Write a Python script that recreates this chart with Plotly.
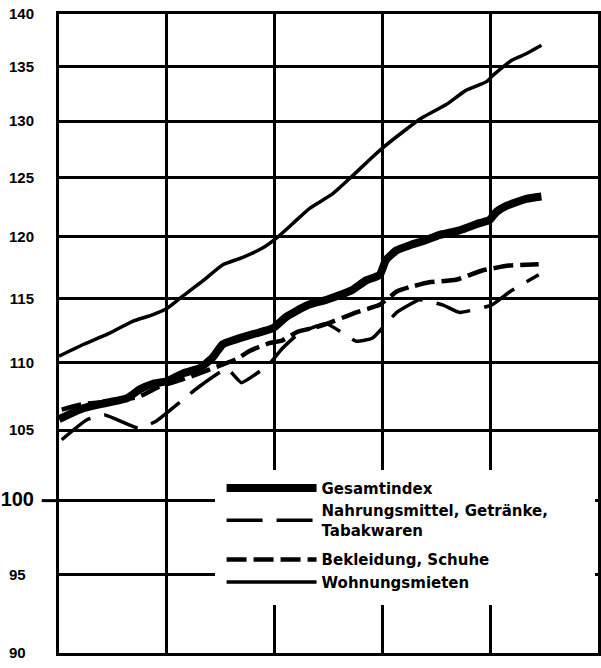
import numpy as np
import plotly.graph_objects as go

# ---- data (month index from start of the series; index values) ----
gesamt_m = [0, 2.7, 5.3, 7.6, 9.0, 10.4, 12.0, 13.8, 15.7, 17.1, 18.2, 19.3, 21.6, 23.8, 25.3,
            27.6, 29.8, 31.2, 32.7, 34.2, 35.7, 36.4, 37.6, 39.0, 40.9, 42.3, 44.6, 46.8, 47.9,
            48.7, 49.8, 52.0, 53.7]
gesamt_v = [105.8, 106.6, 107.0, 107.35, 108.0, 108.4, 108.6, 109.2, 109.6, 110.4, 111.4, 111.7,
            112.2, 112.65, 113.55, 114.45, 114.9, 115.25, 115.7, 116.45, 116.9, 118.1, 118.9,
            119.3, 119.75, 120.15, 120.55, 121.15, 121.4, 122.1, 122.6, 123.2, 123.4]

nahr_m = [0.3, 3.1, 5.1, 8.8, 10.7, 14.0, 15.4, 18.7, 20.3, 23.4, 24.8, 26.8, 29.8, 33.1, 34.9,
          37.6, 39.0, 40.1, 42.7, 44.6, 48.2, 50.1, 53.4]
nahr_v = [104.3, 105.75, 106.1, 105.15, 105.6, 107.35, 108.1, 109.55, 108.5, 109.9, 111.05, 112.3,
          113.0, 111.65, 111.9, 113.9, 114.5, 114.9, 114.5, 113.9, 114.5, 115.5, 116.9]

bekl_m = [0.3, 2.7, 5.7, 8.7, 11.2, 14.0, 16.8, 19.8, 21.2, 23.4, 24.8, 26.6, 28.4, 29.8, 33.1,
          35.7, 37.6, 39.0, 41.2, 44.2, 47.1, 50.1, 53.4]
bekl_v = [106.5, 106.9, 107.1, 107.4, 108.2, 108.8, 109.5, 110.3, 110.9, 111.5, 111.7, 112.4,
          112.7, 113.0, 113.9, 114.5, 115.55, 115.9, 116.3, 116.5, 117.25, 117.65, 117.75]

wohn_m = [0, 2.7, 5.7, 8.2, 10.4, 12.0, 13.8, 16.0, 18.2, 20.4, 22.7, 24.2, 26.0, 27.9, 30.4,
          32.7, 34.6, 36.0, 38.7, 40.4, 43.1, 45.3, 47.6, 48.2, 50.4, 52.0, 53.7]
wohn_v = [110.5, 111.4, 112.3, 113.2, 113.7, 114.2, 115.2, 116.4, 117.7, 118.3, 119.1, 119.9,
          121.1, 122.4, 123.6, 125.2, 126.6, 127.6, 129.3, 130.3, 131.5, 132.8, 133.6, 134.1,
          135.6, 136.2, 137.0]

names = ["Gesamtindex", "Nahrungsmittel, Getränke,<br>Tabakwaren", "Bekleidung, Schuhe",
         "Wohnungsmieten"]
y_ticks = [90, 95, 100, 105, 110, 115, 120, 125, 130, 135, 140]
x_grid = [0, 12, 24, 36, 48, 60]
Y_MIN, Y_MAX = 90, 140

# ---- figure ----
fig = go.Figure()
fig.add_trace(go.Scatter(x=gesamt_m, y=gesamt_v, name=names[0], mode="lines", legendgroup="a",
                         line=dict(color="black", width=8, shape="spline", smoothing=0.5)))
fig.add_trace(go.Scatter(x=nahr_m, y=nahr_v, name=names[1], mode="lines", legendgroup="a",
                         line=dict(color="black", width=3.5, dash="36px,14px",
                                   shape="spline", smoothing=0.4)))
fig.add_trace(go.Scatter(x=bekl_m, y=bekl_v, name=names[2], mode="lines", legendgroup="b",
                         line=dict(color="black", width=4.5, dash="20px,7px",
                                   shape="spline", smoothing=0.4)))
fig.add_trace(go.Scatter(x=wohn_m, y=wohn_v, name=names[3], mode="lines", legendgroup="b",
                         line=dict(color="black", width=3.5, shape="spline", smoothing=0.5)))

lo, hi = np.log10(Y_MIN), np.log10(Y_MAX)
def ypaper(v):
    return (np.log10(v) - lo) / (hi - lo)

def tick_label(v):
    if v == 100:
        return f"<span style='font-size:20px'>{v}</span>"
    if v < 100:
        return f"{v}&nbsp;&nbsp;"
    return str(v)

ticktext = [tick_label(v) for v in y_ticks]

shapes = [
    # blank area behind the legend
    dict(type="rect", xref="paper", yref="paper", x0=0.2894, x1=0.9945,
         y0=0.0751, y1=0.2864, fillcolor="white", line=dict(width=0), layer="above"),
    # 100-line extension to the label
    dict(type="line", xref="paper", yref="paper", x0=-0.032, x1=0.0,
         y0=ypaper(100), y1=ypaper(100), line=dict(color="black", width=3)),
]

fig.update_layout(
    width=601, height=668,
    margin=dict(l=59, r=3, t=14, b=15, autoexpand=False),
    paper_bgcolor="white", plot_bgcolor="white",
    font=dict(family="Liberation Sans", color="black"),
    showlegend=True,
    legend=dict(x=0.3016, y=0.2835, xanchor="left", yanchor="top",
                bgcolor="rgba(0,0,0,0)", itemwidth=90, traceorder="grouped",
                font=dict(family="DejaVu Sans", size=15, color="black", weight="bold"),
                tracegroupgap=7, itemclick=False),
    shapes=shapes,
    xaxis=dict(range=[0, 60], tickvals=x_grid, showticklabels=False, ticks="", automargin=False,
               showgrid=True, gridcolor="black", gridwidth=3, zeroline=False,
               showline=True, mirror=True, linecolor="black", linewidth=3),
    yaxis=dict(type="log", range=[lo, hi], tickvals=y_ticks, ticktext=ticktext, ticks="",
               automargin=False,
               showgrid=True, gridcolor="black", gridwidth=3, zeroline=False,
               showline=True, mirror=True, linecolor="black", linewidth=3,
               ticklabelstandoff=19,
               tickfont=dict(family="Liberation Sans", size=15, color="black", weight="bold")),
)

fig.write_html("out.html", config={"displayModeBar": False},
               post_script="document.body.style.margin='0';")
